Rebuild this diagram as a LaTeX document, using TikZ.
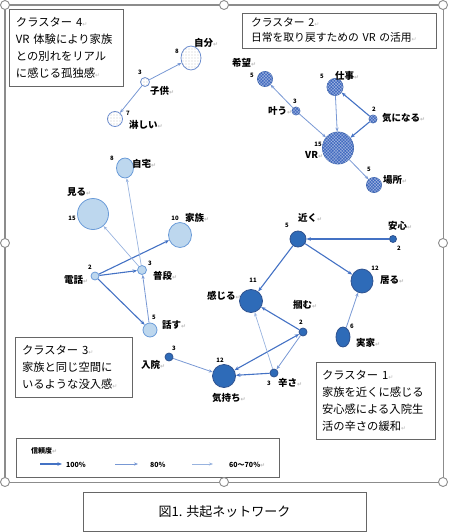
\documentclass[tikz,border=0pt]{standalone}
\usepackage{fontspec}
\setmainfont{Noto Sans CJK JP}
\newfontfamily\dv{DejaVu Sans}
\usetikzlibrary{arrows.meta,shapes.geometric,patterns.meta}
\definecolor{cAf}{HTML}{2E6BB8}
\definecolor{cAd}{HTML}{2F528F}
\definecolor{cBf}{HTML}{3F68BF}
\definecolor{cBd}{HTML}{3A62AD}
\definecolor{cCf}{HTML}{BDD7EE}
\definecolor{cCd}{HTML}{6A9BD8}
\definecolor{cDd}{HTML}{6E8FD0}
\definecolor{aA}{HTML}{4472C4}
\definecolor{aB}{HTML}{8EA9DB}
\definecolor{aC}{HTML}{ADC3E6}
\definecolor{frm}{HTML}{8C8C8C}
\newcommand\rt{{\dv\color{gray!55}\fontsize{6}{6}\selectfont ↵}}
\tikzset{
  nd/.style={ellipse, inner sep=0pt, line width=0.8pt},
  clA/.style={nd, draw=cAd, fill=cAf},
  clB/.style={nd, draw=cBd, fill=cBf, postaction={pattern={Hatch[angle=45,distance=2.2pt,line width=0.3pt]}, pattern color=white!55!cBf}},
  clC/.style={nd, draw=cCd, fill=cCf},
  clD/.style={nd, draw=cDd, fill=white, postaction={pattern={Dots[distance=3pt,radius=0.4pt]}, pattern color=gray!80!black}},
  lb/.style={font=\fontsize{9.5}{9.5}\selectfont\bfseries, inner sep=0pt, anchor=west},
  nm/.style={font=\fontsize{6}{6}\selectfont\bfseries, inner sep=0pt},
  arA/.style={draw=aA, line width=1.1pt, -{Stealth[length=4.5pt,width=3.5pt]}},
  arB/.style={draw=aB, line width=0.8pt, -{Stealth[length=4pt,width=3.2pt]}, color=aB!70!aA},
  arC/.style={draw=aC, line width=0.7pt, -{Stealth[length=4pt,width=3pt]}, color=aC!80!aA},
  boxx/.style={draw=gray!80!black, line width=0.9pt, fill=white, inner sep=0pt, align=left},
  handle/.style={circle, draw=frm, fill=white, line width=0.9pt, minimum size=9pt, inner sep=0pt},
}
\begin{document}
\begin{tikzpicture}[x=1pt,y=-1pt]
\useasboundingbox (0,0) rectangle (450,532);
% selection frame
\coordinate (f1) at (5,5); \coordinate (f2) at (224,5); \coordinate (f3) at (443,5);
\coordinate (f4) at (5,243); \coordinate (f5) at (443,243);
\coordinate (f6) at (5,482); \coordinate (f7) at (224,482); \coordinate (f8) at (443,482);
\draw[frm, line width=2pt] (f1) -- (f3);
\draw[frm, line width=2pt] (f1) -- (f6);
\draw[frm, line width=0.9pt] (f3) -- (f8) -- (f6);

% ---------- cluster 4 ----------
\node[clD, minimum width=20pt, minimum height=24pt] (jibun) at (191,58) {};
\node[clD, minimum width=9pt, minimum height=9pt] (kodomo) at (145,82) {};
\node[clD, minimum width=15pt, minimum height=15pt] (sabishii) at (115,119) {};
\node[lb] at (194,43) {自分\rt}; \node[nm] at (177,51) {8};
\node[nm] at (140,72) {3}; \node[lb] at (150,91) {子供\rt};
\node[nm] at (128,113) {7}; \node[lb] at (129,125) {淋しい\rt};
\draw[arB] (kodomo) -- (jibun);
\draw[arB] (kodomo) -- (sabishii);

% ---------- cluster 2 ----------
\node[clB, minimum width=15pt, minimum height=15pt] (kibou) at (265,79) {};
\node[clB, minimum width=8pt, minimum height=8pt] (kanau) at (296,111) {};
\node[clB, minimum width=16pt, minimum height=17pt] (shigoto) at (335,87) {};
\node[clB, minimum width=8pt, minimum height=8pt] (kininaru) at (373,119) {};
\node[clB, minimum width=31pt, minimum height=32pt] (vr) at (338,148) {};
\node[clB, minimum width=15pt, minimum height=15pt] (basho) at (374,185) {};
\node[lb] at (232,63) {希望\rt}; \node[nm] at (252,75) {5};
\node[lb] at (268,111) {叶う\rt}; \node[nm] at (295,101) {3};
\node[lb] at (335,76) {仕事\rt}; \node[nm] at (322,76) {5};
\node[lb] at (382,118) {気になる\rt}; \node[nm] at (374,109) {2};
\node[lb] at (305,155) {VR\rt}; \node[nm] at (318,144) {15};
\node[lb] at (383,180) {場所\rt}; \node[nm] at (369,169) {5};
\draw[arB] (kanau) -- (kibou);
\draw[arB] (kanau) -- (vr);
\draw[arB] (shigoto) -- (vr);
\draw[arA] (kininaru) -- (shigoto);
\draw[arA] (kininaru) -- (vr);
\draw[arB] (vr) -- (basho);

% ---------- cluster 3 ----------
\node[clC, minimum width=17pt, minimum height=20pt] (jitaku) at (125,168) {};
\node[clC, minimum width=31pt, minimum height=31pt] (miru) at (93,214) {};
\node[clC, minimum width=23pt, minimum height=25pt] (kazoku) at (180,235) {};
\node[clC, minimum width=8pt, minimum height=8pt] (denwa) at (95,276) {};
\node[clC, minimum width=9pt, minimum height=9pt] (fudan) at (142,270) {};
\node[clC, minimum width=14pt, minimum height=14pt] (hanasu) at (150,330) {};
\node[lb] at (132,164) {自宅\rt}; \node[nm] at (112,158) {8};
\node[lb] at (67,192) {見る\rt}; \node[nm] at (72,218) {15};
\node[lb] at (185,218) {家族\rt}; \node[nm] at (175,218) {10};
\node[lb] at (64,280) {電話\rt}; \node[nm] at (90,267) {2};
\node[lb] at (153,276) {普段\rt}; \node[nm] at (150,263) {3};
\node[lb] at (162,325) {話す\rt}; \node[nm] at (154,317) {5};
\draw[arA] (denwa) -- (kazoku);
\draw[arA] (denwa) -- (fudan);
\draw[arA] (denwa) -- (hanasu);
\draw[arB] (hanasu) -- (fudan);
\draw[arC] (fudan) -- (jitaku);
\draw[arC] (fudan) -- (miru);

% ---------- cluster 1 ----------
\node[clA, minimum width=16pt, minimum height=16pt] (chikaku) at (298,239) {};
\node[clA, minimum width=7pt, minimum height=7pt] (anshin) at (393,239) {};
\node[clA, minimum width=22pt, minimum height=24pt] (iru) at (362,281) {};
\node[clA, minimum width=23pt, minimum height=23pt] (kanjiru) at (251,301) {};
\node[clA, minimum width=8pt, minimum height=8pt] (tsukamu) at (303,332) {};
\node[clA, minimum width=14pt, minimum height=20pt] (jikka) at (343,337) {};
\node[clA, minimum width=8pt, minimum height=8pt] (nyuuin) at (169,357) {};
\node[clA, minimum width=23pt, minimum height=23pt] (kimochi) at (224,376) {};
\node[clA, minimum width=8pt, minimum height=8pt] (tsurasa) at (274,373) {};
\node[lb] at (298,218) {近く\rt}; \node[nm] at (287,225) {5};
\node[lb] at (388,226) {安心\rt}; \node[nm] at (399,248) {2};
\node[lb] at (380,280) {居る\rt}; \node[nm] at (375,268) {12};
\node[lb] at (207,296) {感じる\rt}; \node[nm] at (253,280) {11};
\node[lb] at (293,305) {摑む\rt}; \node[nm] at (301,322) {2};
\node[lb] at (356,343) {実家\rt}; \node[nm] at (352,326) {6};
\node[lb] at (141,365) {入院\rt}; \node[nm] at (174,348) {3};
\node[lb] at (212,398) {気持ち\rt}; \node[nm] at (220,360) {12};
\node[lb] at (278,383) {辛さ\rt}; \node[nm] at (269,383) {3};
\draw[arA] (anshin) -- (chikaku);
\draw[arA] (chikaku) -- (iru);
\draw[arA] (chikaku) -- (kanjiru);
\draw[arB] (jikka) -- (iru);
\draw[arA] (tsukamu) -- (kanjiru);
\draw[arB] (tsukamu) -- (tsurasa);
\draw[arA, {Stealth[length=4.5pt,width=3.5pt]}-{Stealth[length=4.5pt,width=3.5pt]}] (kimochi) -- (tsukamu);
\draw[arA] (tsurasa) -- (kimochi);
\draw[arC] (tsurasa) -- (kanjiru);
\draw[arB] (nyuuin) -- (kimochi);

% ---------- cluster boxes ----------
\node[boxx, minimum width=114pt, minimum height=77pt, text width=100pt,
  font=\fontsize{11.3}{17}\selectfont] (b4) at (66,47.5)
  {クラスター 4\rt\\VR 体験により家族\\との別れをリアル\\に感じる孤独感\rt};
\node[boxx, minimum width=194pt, minimum height=35pt, text width=176pt,
  font=\fontsize{10.8}{15}\selectfont] (b2) at (339,30.5)
  {クラスター 2\rt\\日常を取り戻すための VR の活用\rt};
\node[boxx, minimum width=117pt, minimum height=60pt, text width=103pt,
  font=\fontsize{11.3}{17}\selectfont] (b3) at (73.5,367)
  {クラスター 3\rt\\家族と同じ空間に\\いるような没入感\rt};
\node[boxx, minimum width=119pt, minimum height=77pt, text width=107pt,
  font=\fontsize{11.3}{17}\selectfont] (b1) at (375.5,400.5)
  {クラスター 1\rt\\家族を近くに感じる\\安心感による入院生\\活の辛さの緩和\rt};

% ---------- legend ----------
\node[boxx, minimum width=263pt, minimum height=39pt] (leg) at (147.5,457.5) {};
\node[font=\fontsize{7}{7}\selectfont\bfseries, inner sep=0pt, anchor=west] (legt) at (31,451) {信頼度\rt};
\coordinate (l1a) at (40,464); \coordinate (l1b) at (62,464);
\coordinate (l2a) at (115,464); \coordinate (l2b) at (138,464);
\coordinate (l3a) at (192,464); \coordinate (l3b) at (213,464);
\draw[arA] (l1a) -- (l1b);
\draw[arB, line width=0.6pt] (l2a) -- (l2b);
\draw[arC, line width=0.6pt] (l3a) -- (l3b);
\node[font=\fontsize{7}{7}\selectfont\bfseries, inner sep=0pt, anchor=west] (lg1) at (66,464.5) {100\%};
\node[font=\fontsize{7}{7}\selectfont\bfseries, inner sep=0pt, anchor=west] (lg2) at (150,464.5) {80\%};
\node[font=\fontsize{7}{7}\selectfont\bfseries, inner sep=0pt, anchor=west] (lg3) at (229,464.5) {60～70\%\rt};

% handles
\foreach \h in {f1,f2,f3,f4,f5,f6,f7,f8} \node[handle] at (\h) {};

% ---------- caption ----------
\node[boxx, minimum width=283pt, minimum height=39pt, align=center,
  font=\fontsize{13}{13}\selectfont] (cap) at (224.5,511.5) {図1. 共起ネットワーク};
\end{tikzpicture}
\end{document}
